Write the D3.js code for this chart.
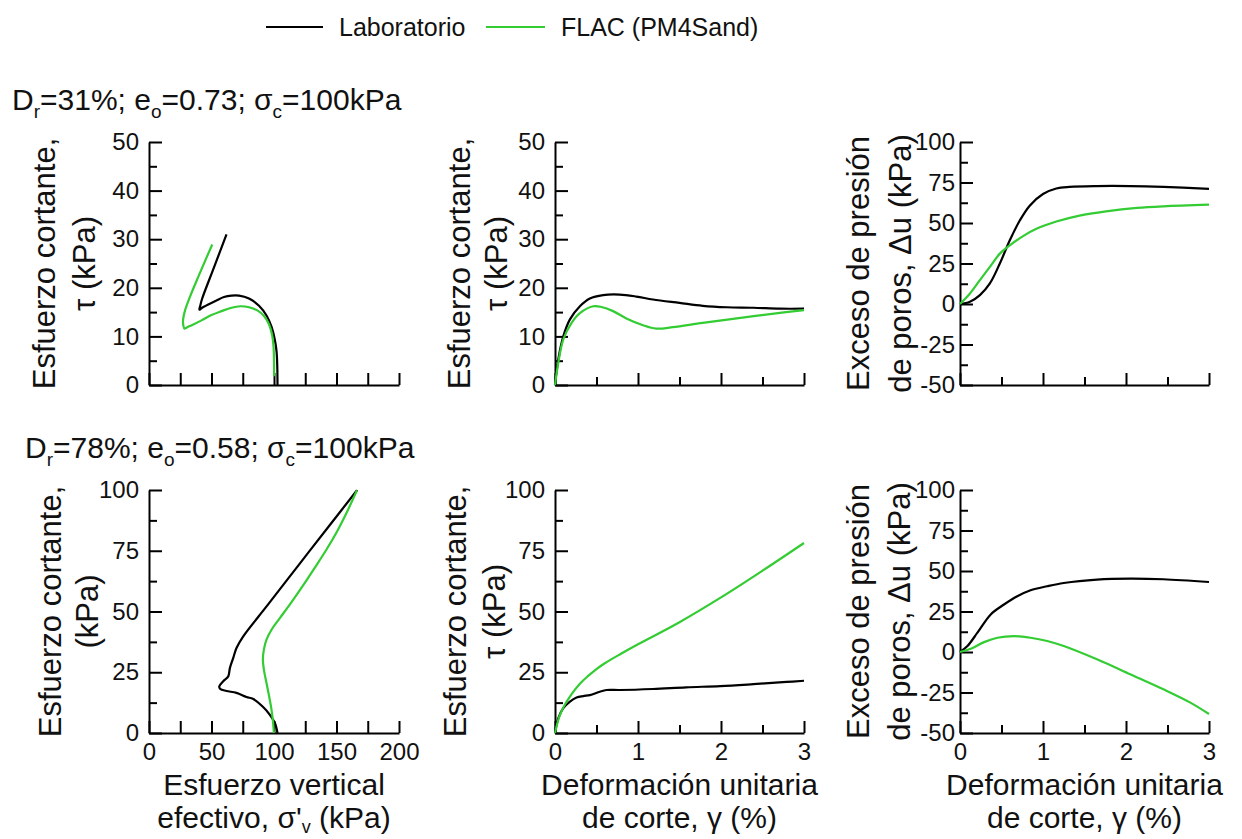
<!DOCTYPE html>
<html>
<head>
<meta charset="utf-8">
<script src="https://cdn.jsdelivr.net/npm/d3@7"></script>
<style>
  body { margin: 0; background: #fff; }
  svg { font-family: "Liberation Sans", Arial, sans-serif; }
  .domain { stroke: #000; stroke-width: 2px; }
  .tick line { stroke: #000; stroke-width: 2px; }
  .tick text { font-size: 24px; fill: #111; }
</style>
</head>
<body>
<div id="chart"></div>
<script>
// series names
const seriesNames = ['Laboratorio', 'FLAC (PM4Sand)']
const seriesColors = ['#000000', '#33cc33']

// Dr=31% : stress path [sigma'v, tau]
const pathLab31 = [[102.8, 0], [102.6, 4], [102, 7], [100.5, 9.5], [98, 12], [94, 14.3], [88, 16.3], [80, 17.8], [72, 18.4], [66, 18.4], [60, 18.1], [54, 17.4], [47, 16.5], [42, 15.8], [40.3, 15.5], [41, 16.3], [42.3, 17.6], [52, 24.2], [62, 31]]
const pathFlac31 = [[100.1, 1.8], [100, 5], [99.6, 8], [98.5, 10.3], [96, 12.5], [92, 14.2], [87, 15.3], [80, 16], [73, 16.2], [66, 15.9], [58, 15.2], [50, 14.4], [42, 13.3], [35, 12.4], [30, 11.8], [28.5, 11.6], [27.5, 12.2], [27.3, 13.5], [29, 15.5], [33, 18.3], [40, 22.6], [46, 26.2], [50.6, 28.9]]
// Dr=31% : shear stress vs strain [gamma, tau]
const tauLab31 = [[0, 0], [0.04, 5.3], [0.1, 10], [0.18, 13.5], [0.3, 16.2], [0.42, 17.8], [0.58, 18.5], [0.78, 18.6], [0.98, 18.2], [1.18, 17.6], [1.5, 16.9], [1.78, 16.3], [2.07, 16], [2.39, 15.9], [2.71, 15.7], [3, 15.7]]
const tauFlac31 = [[0, 0], [0.04, 4.6], [0.1, 9.4], [0.2, 12.8], [0.3, 14.8], [0.46, 16.2], [0.56, 16.05], [0.7, 15.2], [0.86, 13.7], [1.06, 12.3], [1.22, 11.6], [1.42, 11.9], [1.78, 12.8], [2.19, 13.7], [2.59, 14.6], [3, 15.4]]
// Dr=31% : excess pore pressure vs strain [gamma, du]
const duLab31 = [[0, 0], [0.12, 1.4], [0.24, 5.5], [0.36, 12.7], [0.48, 25], [0.6, 39.3], [0.72, 51.5], [0.84, 60.7], [1.0, 67.9], [1.16, 71.3], [1.32, 72.3], [1.64, 72.8], [2.05, 72.8], [2.45, 72.3], [3, 71.1]]
const duFlac31 = [[0, 0], [0.12, 6.5], [0.24, 14.7], [0.36, 22.9], [0.48, 31.1], [0.6, 36.2], [0.76, 41.9], [0.92, 46.4], [1.16, 50.9], [1.44, 54.6], [1.76, 57.2], [2.13, 59.3], [2.45, 60.3], [3, 61.3]]

// Dr=78% : stress path
const pathLab78 = [[102.8, 0], [100.7, 4.1], [96.7, 7.5], [91.3, 10.7], [83.4, 14], [78, 14.8], [70, 16.5], [62, 17.3], [57, 18.1], [56.2, 19.2], [59.4, 21.3], [63.4, 23.3], [64.7, 26.7], [67.4, 30.9], [70, 35], [75.4, 39.8], [95, 52.7], [120, 69.3], [145, 85.8], [166.4, 99.9]]
const pathFlac78 = [[99.9, 0], [99.3, 4.1], [98, 9.6], [96.1, 15.1], [94, 20.6], [91.9, 26.1], [91.1, 30.2], [91.9, 34.3], [94, 38.4], [98, 42.5], [104.7, 47.3], [112.6, 52.8], [123, 60.5], [133, 68.3], [142, 75.5], [150, 82.5], [157, 89.5], [162.5, 95.5], [166.4, 99.9]]
// Dr=78% : shear stress vs strain
const tauLab78 = [[0, 0], [0.04, 6.1], [0.1, 10.2], [0.18, 12.9], [0.26, 14.6], [0.34, 15.2], [0.42, 15.6], [0.54, 17], [0.62, 17.7], [0.78, 17.7], [1.18, 18.1], [1.58, 18.8], [1.99, 19.3], [2.39, 20.1], [2.79, 21], [3, 21.5]]
const tauFlac78 = [[0, 0], [0.05, 6.5], [0.1, 10.5], [0.2, 16], [0.3, 20.3], [0.4, 23.5], [0.5, 26.3], [0.6, 28.7], [0.8, 32.7], [1.0, 36.5], [1.5, 45.6], [2.0, 55.8], [2.5, 66.8], [3, 78.2]]
// Dr=78% : excess pore pressure vs strain
const duLab78 = [[0, 0], [0.09, 3.7], [0.21, 11.9], [0.37, 23.2], [0.53, 29.3], [0.69, 34.4], [0.85, 38.1], [1.05, 40.6], [1.25, 42.6], [1.65, 44.7], [2.05, 45.3], [2.45, 44.9], [3, 43.2]]
const duFlac78 = [[0, 0], [0.13, 2], [0.29, 6.1], [0.45, 8.8], [0.65, 9.8], [0.85, 8.8], [1.05, 6.8], [1.25, 3.7], [1.65, -4.5], [2.05, -13.7], [2.45, -23], [2.77, -31.1], [3, -38.3]]

// tick values
const sigmaTicks = [0, 50, 100, 150, 200]
const sigmaMinor = [25, 75, 125, 175]
const strainTicks = [0, 1, 2, 3]
const strainMinor = [0.5, 1.5, 2.5]
const tau50Ticks = [0, 10, 20, 30, 40, 50]
const tau50Minor = [5, 15, 25, 35, 45]
const tau100Ticks = [0, 25, 50, 75, 100]
const tau100Minor = [12.5, 37.5, 62.5, 87.5]
const duTicks = [-50, -25, 0, 25, 50, 75, 100]
const duMinor = [-37.5, -12.5, 12.5, 37.5, 62.5, 87.5]

const width = 1242
const height = 839
const cols = [[149, 399], [555, 804], [960, 1209]]
const rows = [[142, 385], [490, 733]]

const svg = d3.select('#chart').append('svg')
  .attr('width', width)
  .attr('height', height)

const line = d3.line()
  .x(d => d[0])
  .y(d => d[1])
  .curve(d3.curveCatmullRom.alpha(0.5))

const fmt = d => String(d)

// writes a list of {t, sub} parts into a text element
function addParts (t, parts, subSize, subDy) {
  parts.forEach(part => {
    const sp = t.append('tspan').text(part.t)
    if (part.sub) {
      sp.attr('dy', subDy).style('font-size', subSize)
    } else if (part.back) {
      sp.attr('dy', -subDy)
    }
  })
}

function panel (c, r, cfg) {
  const x = d3.scaleLinear().domain(cfg.xDomain).range(cols[c])
  const y = d3.scaleLinear().domain(cfg.yDomain).range([rows[r][1], rows[r][0]])
  const g = svg.append('g')
  const pad = c === 2 ? 5 : 10

  // minor ticks first
  g.append('g')
    .attr('transform', `translate(0,${rows[r][1]})`)
    .call(d3.axisBottom(x).tickValues(cfg.xMinor).tickSizeInner(cfg.xMinorLen).tickSizeOuter(0).tickFormat(''))
    .call(a => a.select('.domain').remove())
  g.append('g')
    .attr('transform', `translate(${cols[c][0]},0)`)
    .call(d3.axisLeft(y).tickValues(cfg.yMinor).tickSizeInner(-8).tickSizeOuter(0).tickFormat(''))
    .call(a => a.select('.domain').remove())

  g.append('g')
    .attr('transform', `translate(0,${rows[r][1]})`)
    .call(d3.axisBottom(x).tickValues(cfg.xTicks).tickSizeInner(-12).tickSizeOuter(0)
      .tickPadding(10).tickFormat(r === 1 ? fmt : ''))
  g.append('g')
    .attr('transform', `translate(${cols[c][0]},0)`)
    .call(d3.axisLeft(y).tickValues(cfg.yTicks).tickSizeInner(-13).tickSizeOuter(0)
      .tickPadding(pad).tickFormat(fmt))

  const series = [cfg.lab, cfg.flac]
  series.forEach((s, i) => {
    g.append('path')
      .datum(s.map(p => [x(p[0]), y(p[1])]))
      .attr('fill', 'none')
      .attr('stroke', seriesColors[i])
      .attr('stroke-width', 2.2)
      .attr('stroke-linejoin', 'round')
      .attr('d', line)
  })

  // y label
  const cy = (rows[r][0] + rows[r][1]) / 2
  cfg.yLabel.forEach((lbl, i) => {
    const t = g.append('text')
      .attr('transform', `translate(${cfg.yLabelX[i]},${cy}) rotate(-90)`)
      .attr('text-anchor', 'middle')
      .style('font-size', '31px')
      .attr('fill', '#111')
    addParts(t, lbl, '19px', 6)
  })

  // x label (bottom row only)
  if (cfg.xLabel) {
    const cx = (cols[c][0] + cols[c][1]) / 2
    cfg.xLabel.forEach((lbl, i) => {
      const t = g.append('text')
        .attr('x', cx)
        .attr('y', 795 + i * 33)
        .attr('text-anchor', 'middle')
        .style('font-size', '30px')
        .attr('fill', '#111')
      addParts(t, lbl, '18px', 5)
    })
  }
}

const tauLabel = [[{ t: 'Esfuerzo cortante,' }], [{ t: 'τ (kPa)' }]]
const duLabel = [[{ t: 'Exceso de presión' }], [{ t: 'de poros, Δu (kPa)' }]]
const sigmaLabel = [[{ t: 'Esfuerzo vertical' }], [{ t: 'efectivo, σ\'' }, { t: 'v', sub: true }, { t: ' (kPa)', back: true }]]
const strainLabel = [[{ t: 'Deformación unitaria' }], [{ t: 'de corte, γ (%)' }]]

panel(0, 0, { xDomain: [0, 200], yDomain: [0, 50], xTicks: sigmaTicks, xMinor: sigmaMinor, xMinorLen: -12, yTicks: tau50Ticks, yMinor: tau50Minor, lab: pathLab31, flac: pathFlac31, yLabel: tauLabel, yLabelX: [55, 95] })
panel(1, 0, { xDomain: [0, 3], yDomain: [0, 50], xTicks: strainTicks, xMinor: strainMinor, xMinorLen: -8, yTicks: tau50Ticks, yMinor: tau50Minor, lab: tauLab31, flac: tauFlac31, yLabel: tauLabel, yLabelX: [470, 507] })
panel(2, 0, { xDomain: [0, 3], yDomain: [-50, 100], xTicks: strainTicks, xMinor: strainMinor, xMinorLen: -8, yTicks: duTicks, yMinor: duMinor, lab: duLab31, flac: duFlac31, yLabel: duLabel, yLabelX: [869, 911] })
panel(0, 1, { xDomain: [0, 200], yDomain: [0, 100], xTicks: sigmaTicks, xMinor: sigmaMinor, xMinorLen: -12, yTicks: tau100Ticks, yMinor: tau100Minor, lab: pathLab78, flac: pathFlac78, yLabel: [[{ t: 'Esfuerzo cortante,' }], [{ t: '(kPa)' }]], yLabelX: [61, 98], xLabel: sigmaLabel })
panel(1, 1, { xDomain: [0, 3], yDomain: [0, 100], xTicks: strainTicks, xMinor: strainMinor, xMinorLen: -8, yTicks: tau100Ticks, yMinor: tau100Minor, lab: tauLab78, flac: tauFlac78, yLabel: tauLabel, yLabelX: [466, 505], xLabel: strainLabel })
panel(2, 1, { xDomain: [0, 3], yDomain: [-50, 100], xTicks: strainTicks, xMinor: strainMinor, xMinorLen: -8, yTicks: duTicks, yMinor: duMinor, lab: duLab78, flac: duFlac78, yLabel: duLabel, yLabelX: [869, 910], xLabel: strainLabel })

// panel group titles
const titleParts31 = [{ t: 'D' }, { t: 'r', sub: true }, { t: '=31%; e', back: true }, { t: 'o', sub: true }, { t: '=0.73; σ', back: true }, { t: 'c', sub: true }, { t: '=100kPa', back: true }]
const titleParts78 = [{ t: 'D' }, { t: 'r', sub: true }, { t: '=78%; e', back: true }, { t: 'o', sub: true }, { t: '=0.58; σ', back: true }, { t: 'c', sub: true }, { t: '=100kPa', back: true }]
const titles = [{ x: 12, y: 110, parts: titleParts31 }, { x: 25, y: 458, parts: titleParts78 }]
titles.forEach(tt => {
  const t = svg.append('text')
    .attr('x', tt.x)
    .attr('y', tt.y)
    .style('font-size', '30px')
    .attr('fill', '#111')
  addParts(t, tt.parts, '19px', 8)
})

// legend
const legendX = [[266, 323, 339], [486, 545, 561]]
seriesNames.forEach((name, i) => {
  svg.append('line')
    .attr('x1', legendX[i][0]).attr('x2', legendX[i][1])
    .attr('y1', 27).attr('y2', 27)
    .attr('stroke', seriesColors[i])
    .attr('stroke-width', 2)
  svg.append('text')
    .attr('x', legendX[i][2])
    .attr('y', 36)
    .style('font-size', '25px')
    .attr('fill', '#111')
    .text(name)
})
</script>
</body>
</html>
